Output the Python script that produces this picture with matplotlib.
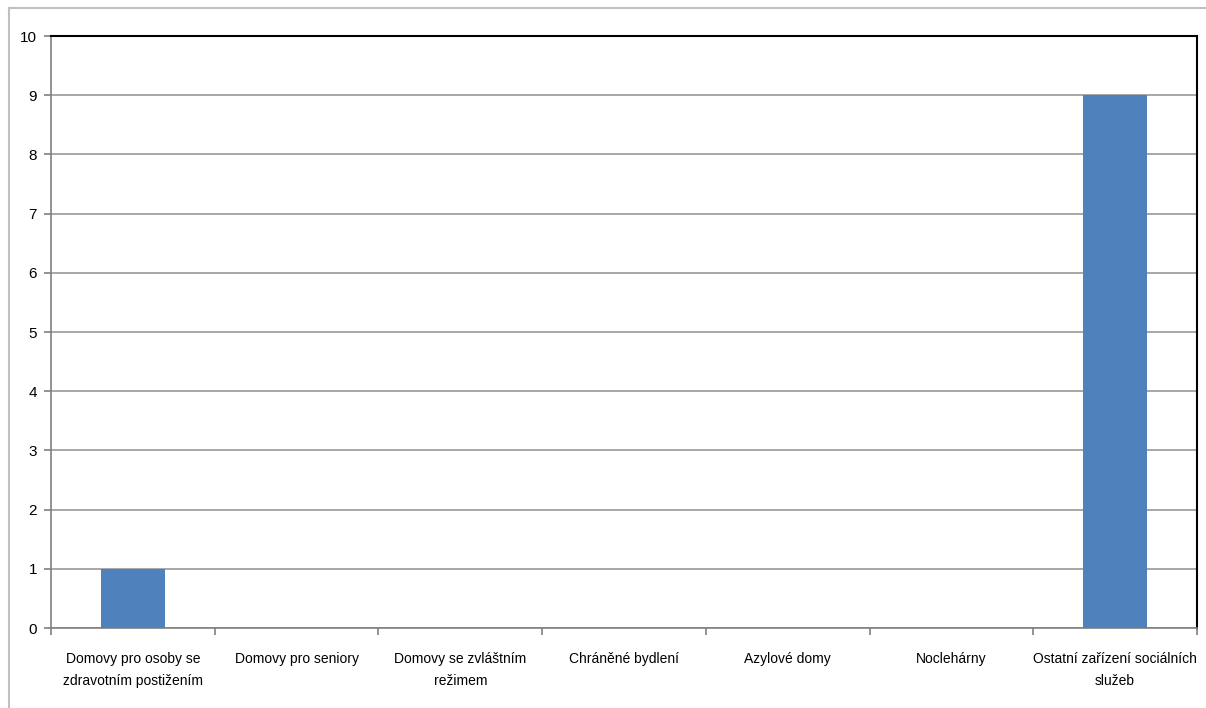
import matplotlib.pyplot as plt
from matplotlib.lines import Line2D

# データ
categories = [
    "Domovy pro osoby se\nzdravotním postižením",
    "Domovy pro seniory",
    "Domovy se zvláštním\nrežimem",
    "Chráněné bydlení",
    "Azylové domy",
    "Noclehárny",
    "Ostatní zařízení sociálních\nslužeb",
]
values = [1, 0, 0, 0, 0, 0, 9]
y_ticks = list(range(0, 11))

plt.rcParams["font.family"] = ["Liberation Sans", "DejaVu Sans"]

bar_color = "#4F81BD"
grid_color = "#A0A0A0"

fig = plt.figure(figsize=(12.06, 7.08), dpi=100)
ax = fig.add_axes([51 / 1206, 1 - 628 / 708, (1197 - 51) / 1206, (628 - 36) / 708])

x = list(range(len(categories)))
ax.bar(x, values, width=0.39, color=bar_color, zorder=3)

ax.set_xlim(-0.5, len(categories) - 0.5)
ax.set_ylim(0, 10)
ax.set_yticks(y_ticks)
ax.set_yticklabels([str(v) for v in y_ticks], fontsize=11)
ax.yaxis.grid(True, color=grid_color, linewidth=1.3, zorder=0)

# x軸: カテゴリ境界に目盛り
ax.set_xticks([i + 0.5 for i in x[:-1]] + [-0.5, len(categories) - 0.5])
ax.set_xticklabels([])
ax.set_xticks(x, minor=True)
ax.set_xticklabels(categories, minor=True, fontsize=10, linespacing=1.75)
ax.tick_params(axis="x", which="minor", length=0, pad=17)
ax.tick_params(axis="x", which="major", length=5, color="#808080", width=1.2)
ax.tick_params(axis="y", length=5, color="#808080", width=1.2, pad=5)

for side in ["left", "bottom"]:
    ax.spines[side].set_color("#808080")
    ax.spines[side].set_linewidth(1.2)
for side in ["top", "right"]:
    ax.spines[side].set_color("black")
    ax.spines[side].set_linewidth(1.5)

# 外枠
fig.add_artist(Line2D([9 / 1206, 1], [1 - 8 / 708] * 2, transform=fig.transFigure, color="#C0C0C0", linewidth=1.5))
fig.add_artist(Line2D([9 / 1206] * 2, [0, 1 - 8 / 708], transform=fig.transFigure, color="#C0C0C0", linewidth=1.5))

fig.savefig("out.png", dpi=100)
